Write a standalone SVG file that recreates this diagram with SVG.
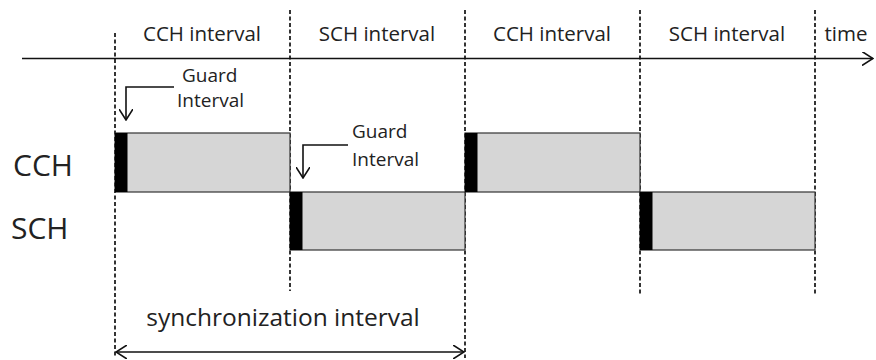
<svg xmlns="http://www.w3.org/2000/svg" width="876" height="360" viewBox="0 0 876 360">
<defs>
<marker id="open" viewBox="0 0 12 14" refX="11" refY="7" markerWidth="12" markerHeight="14" markerUnits="userSpaceOnUse" orient="auto-start-reverse">
<path d="M0,0 L11,7 L0,14" fill="none" stroke="#111" stroke-width="1.6"/>
</marker>
</defs>
<style>
text{font-family:"Open Sans","Liberation Sans",sans-serif;fill:#222}
.hdr{font-size:20.5px;text-anchor:middle}
.big{font-size:30px}
.g{font-size:19px}
.dash{stroke:#111;stroke-width:1.7;stroke-dasharray:4 2.5;fill:none}
.blk{fill:#d6d6d6;stroke:#333;stroke-width:1.2}
.gi{fill:#000}
.ln{stroke:#111;stroke-width:1.6;fill:none}
</style>
<rect width="876" height="360" fill="#fff"/>
<g id="connectors">
<line class="ln" x1="22" y1="58.5" x2="873" y2="58.5" marker-end="url(#open)" stroke-width="2"/>
<line class="dash" x1="115" y1="33" x2="115" y2="358"/>
<line class="dash" x1="290" y1="10" x2="290" y2="291"/>
<line class="dash" x1="465" y1="10" x2="465" y2="358"/>
<line class="dash" x1="640" y1="10" x2="640" y2="294"/>
<line class="dash" x1="815" y1="10" x2="815" y2="294" stroke-width="2.2"/>
<path class="ln" d="M174,87 H126 V120" marker-end="url(#open)"/>
<path class="ln" d="M348,145 H303 V178" marker-end="url(#open)"/>
<line class="ln" x1="116" y1="352" x2="464" y2="352" marker-start="url(#open)" marker-end="url(#open)"/>
</g>
<g id="headers">
<text class="hdr" x="202" y="41">CCH interval</text>
<text class="hdr" x="377" y="41">SCH interval</text>
<text class="hdr" x="552" y="41">CCH interval</text>
<text class="hdr" x="727" y="41">SCH interval</text>
<text class="hdr" x="846" y="41">time</text>
</g>
<g id="labels">
<text class="big" x="13" y="176">CCH</text>
<text class="big" x="11" y="239">SCH</text>
</g>
<g id="cch1"><rect class="blk" x="115" y="133" width="175" height="59"/><rect class="gi" x="115" y="133" width="12.5" height="59"/></g>
<g id="sch1"><rect class="blk" x="290" y="192" width="175" height="58"/><rect class="gi" x="290" y="192" width="12.5" height="58"/></g>
<g id="cch2"><rect class="blk" x="465" y="133" width="175" height="59"/><rect class="gi" x="465" y="133" width="12.5" height="59"/></g>
<g id="sch2"><rect class="blk" x="640" y="192" width="175" height="58"/><rect class="gi" x="640" y="192" width="12.5" height="58"/></g>
<g id="guard1">
<text class="g" x="182" y="82">Guard</text>
<text class="g" x="177" y="107">Interval</text>
</g>
<g id="guard2">
<text class="g" x="352" y="138">Guard</text>
<text class="g" x="352" y="166">Interval</text>
</g>
<g id="sync">
<text x="283" y="326" font-size="24.5" text-anchor="middle">synchronization interval</text>
</g>
</svg>
